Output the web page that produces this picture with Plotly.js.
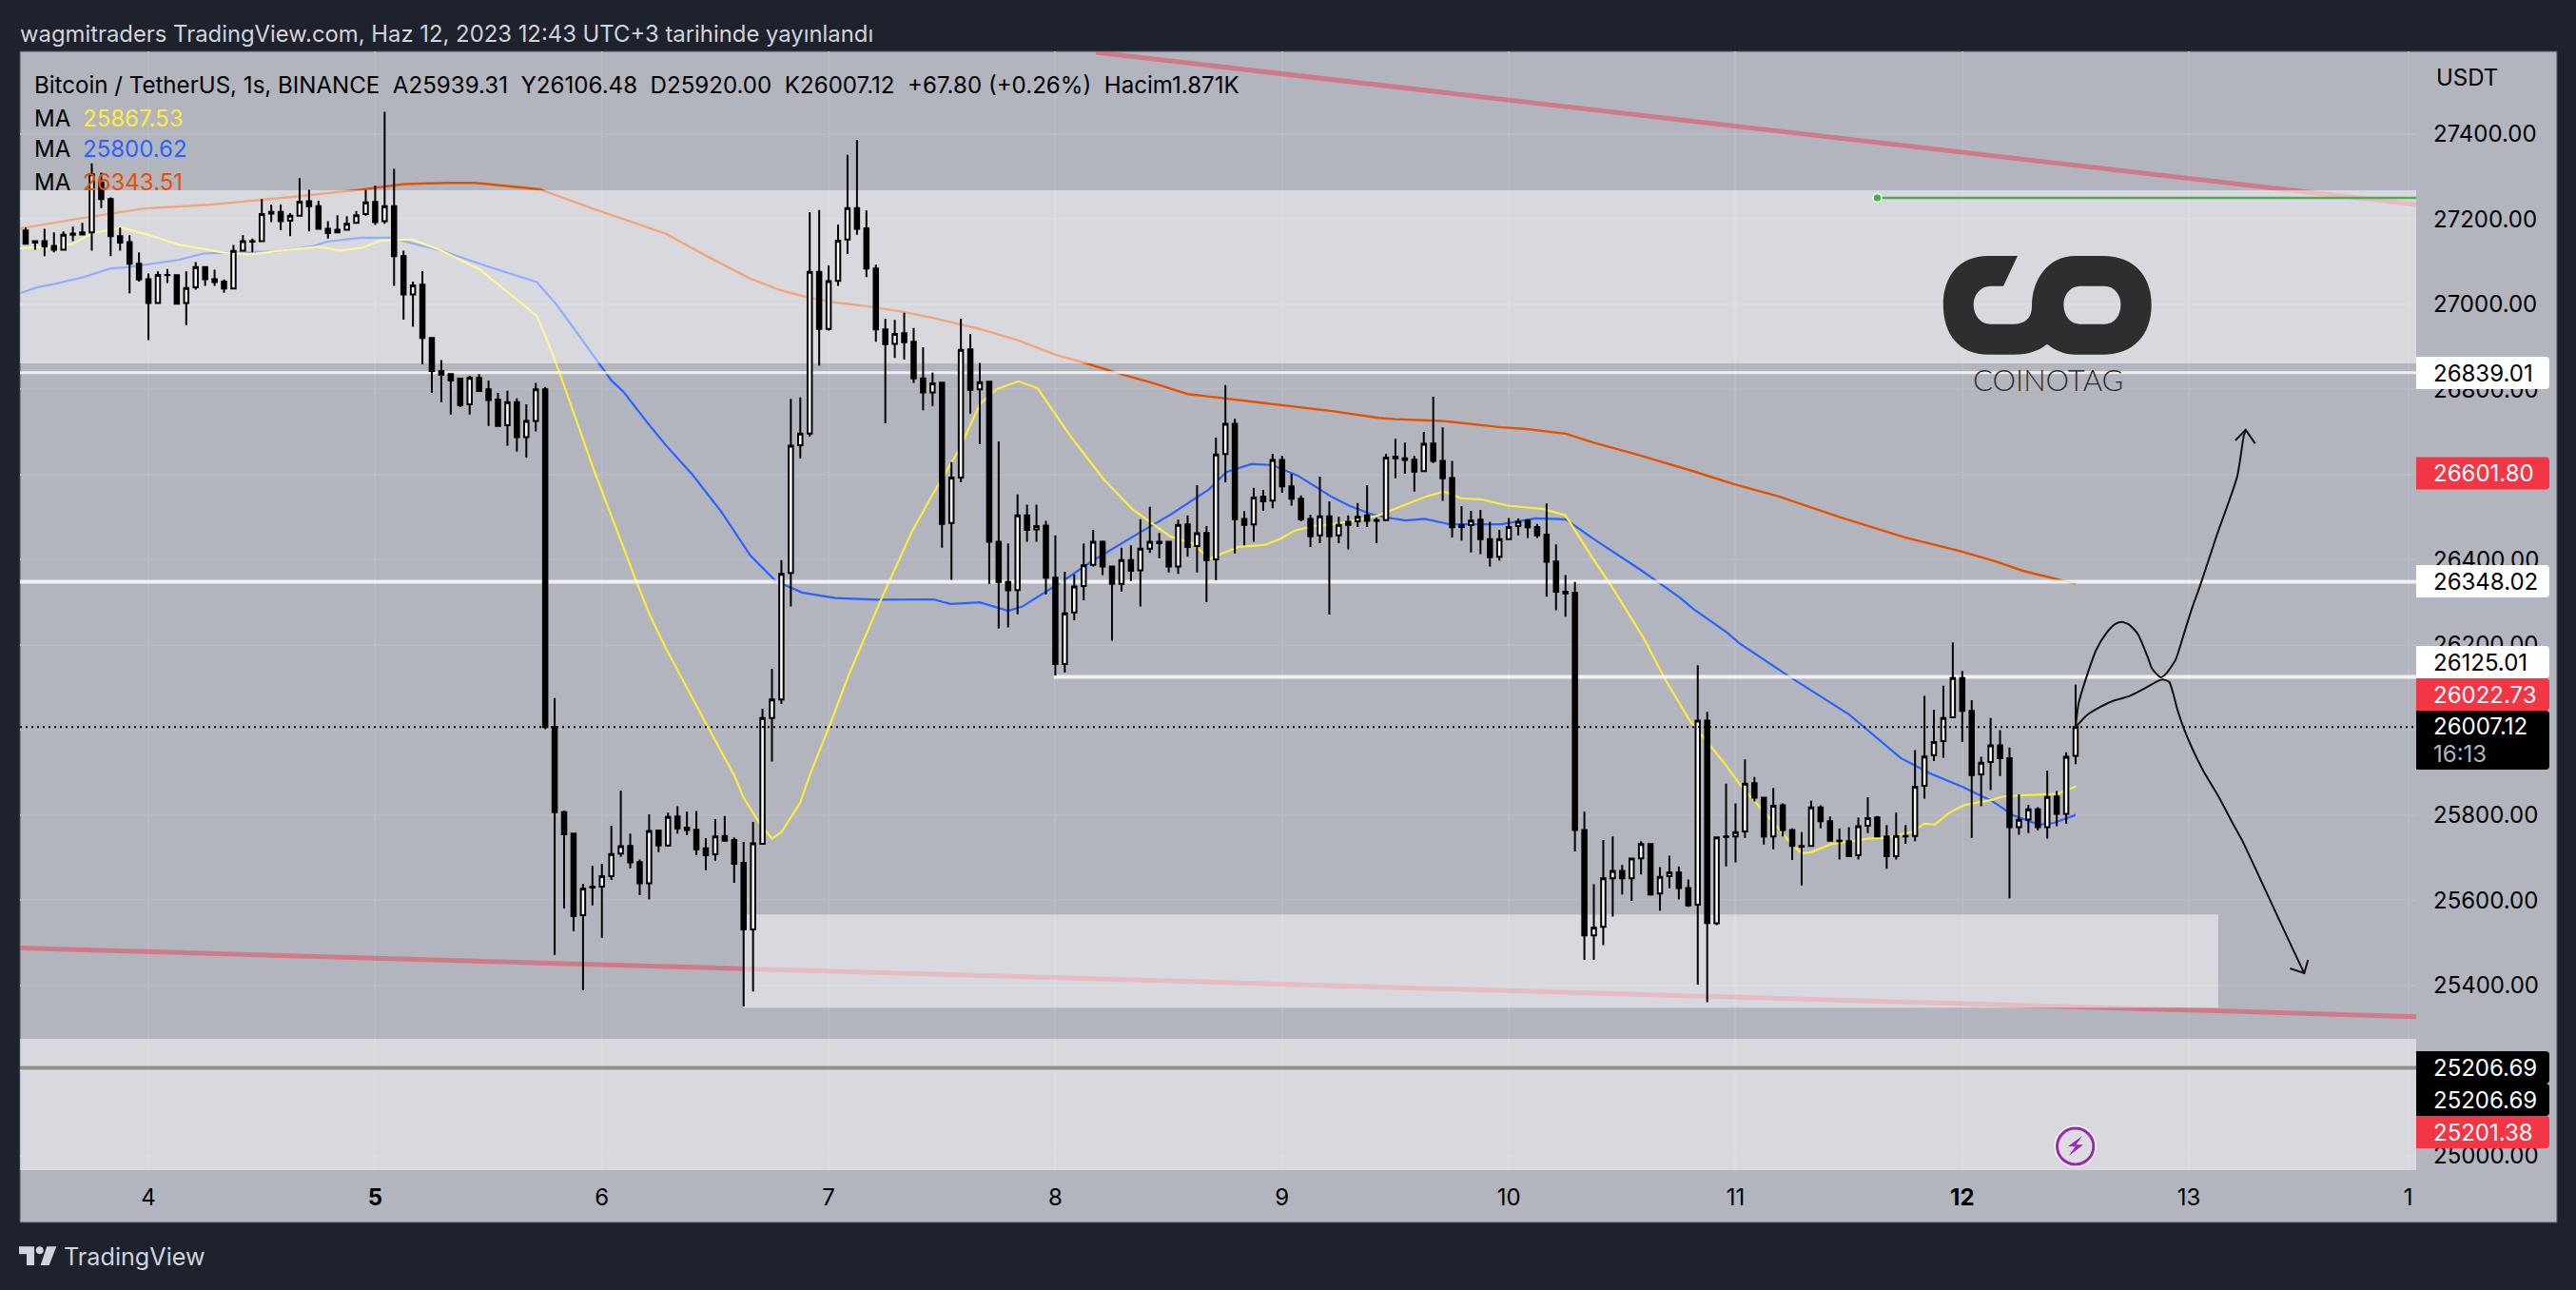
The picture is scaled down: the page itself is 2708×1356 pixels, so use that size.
<!DOCTYPE html>
<html><head><meta charset="utf-8">
<script src="https://cdn.plot.ly/plotly-3.0.1.min.js"></script>
<style>html,body{margin:0;padding:0;background:#1e222d}#chart{width:2708px;height:1356px}</style>
</head><body><div id="chart"></div>
<script>
// ---------- candle values (hourly BTC/USDT) ----------
const opens=[27173,27148,27148,27137,27128,27166,27169,27169,27286,27247,27160,27146,27095,27059,27003,27069,27068,27003,27040,27087,27059,27053,27037,27126,27147,27148,27217,27217,27196,27208,27242,27230,27177,27175,27175,27191,27212,27240,27195,27230,27113,27023,27046,26921,26843,26836,26825,26765,26827,26800,26776,26716,26770,26688,26726,26800,26007,25807,25757,25565,25632,25632,25657,25710,25728,25690,25640,25764,25729,25797,25771,25766,25722,25708,25751,25742,25688,25532,25733,26028,26072,26369,26669,26696,27076,26942,27055,27152,27226,27178,27084,26941,26907,26932,26912,26826,26793,26816,26486,26593,26894,26800,26818,26442,26348,26329,26504,26471,26480,26358,26155,26276,26338,26388,26442,26384,26343,26399,26375,26426,26442,26442,26384,26483,26432,26463,26401,26648,26719,26496,26483,26548,26539,26634,26572,26543,26496,26457,26502,26457,26489,26490,26504,26493,26493,26642,26638,26635,26608,26673,26632,26592,26481,26481,26494,26448,26407,26448,26479,26492,26477,26459,26396,26325,26322,25765,25518,25538,25652,25669,25652,25699,25732,25616,25657,25666,25629,25590,26022,25546,25749,25750,25762,25875,25841,25750,25823,25765,25726,25728,25818,25786,25740,25739,25706,25775,25795,25750,25704,25750,25751,25869,25941,25974,26030,26122,26045,25896,25925,25964,25934,25772,25790,25814,25772,25844,25803,25939.31];
const highs=[27180,27148,27177,27169,27171,27182,27191,27331,27309,27251,27180,27162,27122,27072,27077,27083,27069,27077,27099,27089,27081,27058,27139,27162,27154,27247,27234,27234,27214,27296,27269,27243,27195,27209,27207,27219,27268,27279,27452,27318,27126,27053,27078,26923,26869,26837,26825,26832,26836,26821,26792,26797,26779,26765,26815,26806,26075,25811,25757,25639,25681,25686,25775,25858,25757,25696,25802,25764,25806,25821,25809,25810,25746,25791,25798,25748,25737,25784,26050,26144,26399,26778,26781,27216,27221,27091,27187,27351,27386,27220,27093,26966,26963,26980,26944,26899,26839,26816,26629,26966,26930,26862,26818,26678,26438,26553,26529,26529,26491,26457,26372,26365,26438,26470,26445,26385,26428,26434,26495,26524,26463,26442,26494,26504,26575,26479,26687,26810,26731,26514,26569,26564,26649,26644,26602,26551,26506,26595,26537,26501,26504,26533,26575,26499,26649,26684,26675,26644,26700,26783,26711,26632,26526,26515,26517,26489,26470,26498,26497,26495,26484,26532,26436,26364,26348,25808,25638,25742,25750,25683,25700,25739,25732,25678,25705,25680,25649,26152,26043,25750,25874,25828,25931,25890,25842,25864,25828,25769,25760,25834,25823,25797,25769,25772,25795,25842,25798,25777,25806,25777,25953,26080,26048,26104,26206,26139,26070,25937,26028,26000,25959,25849,25824,25819,25905,25857,25948,26106.48];
const lows=[27141,27128,27113,27122,27128,27148,27164,27126,27226,27113,27126,27026,27053,26916,27003,27050,26999,26951,27034,27043,27043,27027,27037,27125,27122,27148,27193,27174,27160,27206,27171,27177,27154,27169,27175,27189,27208,27186,27189,27043,26964,26947,26859,26792,26770,26741,26758,26741,26794,26714,26712,26668,26654,26640,26701,26002,25472,25581,25528,25389,25588,25512,25648,25702,25675,25612,25602,25713,25726,25757,25753,25706,25670,25693,25740,25641,25351,25386,25733,25926,26061,26290,26638,26689,26856,26938,27043,27118,27163,27064,26912,26720,26874,26870,26815,26751,26761,26428,26353,26582,26743,26671,26343,26238,26241,26272,26442,26442,26318,26128,26135,26258,26305,26384,26364,26210,26325,26350,26290,26416,26403,26370,26367,26407,26370,26300,26352,26582,26415,26434,26442,26515,26521,26557,26527,26490,26430,26439,26271,26439,26424,26477,26477,26439,26492,26591,26602,26560,26607,26627,26538,26452,26445,26417,26413,26384,26398,26448,26457,26451,26451,26313,26281,26266,25715,25460,25460,25495,25562,25614,25599,25661,25611,25576,25628,25602,25585,25402,25361,25542,25680,25689,25747,25832,25731,25720,25750,25695,25635,25728,25769,25739,25696,25702,25696,25758,25748,25674,25696,25733,25739,25839,25927,25935,26030,25972,25747,25821,25859,25892,25605,25754,25758,25764,25745,25774,25780,25920];
const closes=[27142,27145,27136,27128,27163,27163,27164,27305,27247,27160,27145,27095,27058,27003,27069,27068,27001,27038,27087,27059,27052,27037,27125,27148,27148,27212,27213,27195,27208,27241,27230,27177,27167,27169,27189,27209,27239,27193,27230,27113,27023,27044,26921,26843,26834,26821,26763,26827,26796,26775,26714,26770,26688,26726,26800,26007,25807,25755,25563,25628,25630,25657,25709,25727,25689,25640,25763,25729,25796,25769,25765,25720,25706,25750,25740,25686,25532,25734,26028,26072,26367,26668,26696,27076,26942,27054,27149,27226,27177,27084,26941,26906,26930,26911,26826,26793,26814,26484,26593,26893,26799,26817,26442,26348,26328,26504,26470,26479,26358,26155,26274,26337,26387,26442,26384,26343,26399,26374,26426,26442,26439,26384,26482,26430,26462,26399,26647,26719,26495,26482,26546,26537,26634,26572,26543,26495,26455,26502,26455,26482,26482,26501,26491,26491,26640,26638,26634,26607,26672,26632,26591,26476,26477,26492,26448,26406,26448,26477,26489,26476,26457,26395,26325,26321,25765,25518,25536,25652,25669,25652,25698,25732,25614,25655,25666,25629,25588,26022,25547,25748,25750,25760,25874,25841,25750,25822,25765,25728,25728,25818,25786,25740,25739,25704,25774,25793,25750,25704,25751,25751,25867,25938,25972,26028,26122,26045,25894,25923,25964,25934,25772,25789,25814,25772,25843,25803,25937,26007.12];
const firstHour=-13;   // hours relative to 4 Jun 00:00
const hours=opens.map((_,i)=>firstHour+i);

// ---------- moving averages ----------
const ma1Hours=[-13.6,-11.2,-8.1,-5.9,-2.9,0,3.2,8.1,10.8,15.7,18,20.2,22.5,24.7,27.9,30.6,35.1,41.1,42.7,43.8,47.2,51.7,53.1,54.8,59,62,63,64.8,66,67,69,70,72.2,74.1,77.7,80.8,83.1,85.8,88,89.8,92.1,94.1,97.5,101.1,104.2,108.2,110.5,112.3,113.6,115.4,118.2,119.9,121.3,123.5,125.3,127.9,130.2,133.1,135.1,137.1,139,141,143.9,147.7,150,153.1,154.9,158.3,160.6,163.1,166.9,168.5,171.6,173.9,175,176,178.1,182,183.9,186.6,188,189.1,190.5,192.2,195.1,196.3,198.6,202,204];
const ma1Values=[27131,27135,27141,27167,27180,27163,27140,27121,27117,27130,27135,27126,27132,27150,27152,27130,27081,26973,26888,26821,26608,26346,26269,26191,26016,25894,25841,25778,25745,25760,25830,25894,26016,26128,26314,26465,26557,26658,26765,26801,26819,26803,26693,26589,26518,26454,26439,26402,26414,26430,26435,26450,26468,26480,26483,26493,26504,26530,26547,26560,26544,26542,26527,26519,26504,26396,26337,26215,26117,26024,25920,25871,25793,25733,25711,25713,25732,25745,25747,25760,25780,25778,25804,25824,25836,25844,25847,25850,25867.53];
const ma2Hours=[-13.6,-11.7,-9.9,-6.8,-4,-2.2,3.2,5.8,8.1,13.5,17.5,18.9,22.5,25.6,31,35.9,41.1,43.2,45.4,49,50.3,53.1,54.8,57.5,60.6,63.7,66.4,69.2,72.7,77.2,83.1,84.9,88,91,92.5,96.8,99.7,104.2,108.2,112.3,114.1,116.8,119,121.7,125.3,127.1,129.3,131.1,133.1,135.1,137.8,143.2,146.8,150,153.1,158.1,162.1,163.5,167.1,168.4,173.8,180,185.5,188.6,192,195.1,197.4,200.1,201.7,204];
const ma2Values=[27026,27040,27048,27064,27084,27087,27104,27119,27121,27124,27137,27147,27156,27156,27126,27089,27052,26999,26932,26821,26794,26714,26668,26602,26514,26410,26350,26323,26310,26306,26307,26296,26300,26280,26290,26350,26394,26454,26506,26566,26606,26625,26622,26597,26547,26527,26508,26499,26492,26496,26483,26483,26497,26495,26447,26374,26311,26285,26229,26204,26124,26037,25934,25898,25867,25834,25800,25778,25782,25800.62];
const ma3Hours=[-13.6,-6.8,-0.4,6.7,15.7,22.5,27,31.5,34.6,41.4,47.2,51.7,54.8,59.2,63.7,66.9,69.8,72.7,75.9,79.9,83,88,92.1,96.1,99.3,102.9,106.5,110,113.2,117.7,125.3,130.2,132,136.9,143.2,145.9,150,153.1,157.6,163.5,167.9,172.5,179.2,186,191.8,195.7,198.4,204];
const ma3Values=[27178,27203,27225,27234,27253,27269,27282,27285,27285,27270,27223,27189,27165,27112,27060,27033,27016,27004,26996,26982,26968,26942,26915,26881,26861,26836,26814,26789,26781,26769,26749,26733,26730,26726,26711,26707,26696,26674,26647,26608,26577,26549,26499,26452,26420,26395,26374,26343.51];

// ---------- hand drawings ----------
const pathUpHours=[204,204.3,205.2,206.2,207.3,208.2,208.9,209.7,210.6,211.6,212.1,213,213.6,214.6,215.3,216.3,217.1,217.7,219,221.1,221.8,222];
const pathUpPrices=[26007,26061,26128,26189,26229,26249,26254,26247,26225,26173,26144,26124,26133,26166,26214,26285,26334,26374,26461,26595,26691,26705];
const headUpHours=[220.9,222,223];
const headUpPrices=[26680,26705,26673];
const pathDownHours=[204,205.2,206.6,207.9,209.7,211.4,212.5,213.2,213.9,214.3,214.8,215.5,216.4,217.5,219.1,220.7,221.6,222.9,224.3,225.7,227,228.2];
const pathDownPrices=[26007,26035,26054,26068,26080,26099,26113,26119,26113,26088,26046,26001,25954,25905,25845,25778,25742,25681,25614,25547,25485,25429];
const headDownHours=[226.7,228.2,228.6];
const headDownPrices=[25440,25429,25460];

// ---------- levels, zones, trend lines ----------
const trendTopHours=[100.3,240.05], trendTopPrices=[27591.5,27234];
const trendBottomHours=[-13.6,240.05], trendBottomPrices=[25488,25327];
const levelHigh=26839.01, levelMid=26348.02, levelLow=26125.01, levelGray=25206.69, lastPrice=26007.12, levelGreen=27250;
const zoneTop=[26861,27267.5], zoneMid=[25348,25567], zoneBottom=[24966,25275];
const zoneMidHours=[63,219.1];
const levelLowStart=95.8, levelGreenStart=183;
const xMin=-13.6, xMax=240.05, yMin=24966.5, yMax=27593.8;

// ---------- axis labels ----------
const dayTicks=[0,24,48,72,96,120,144,168,192,216,239.2];
const dayLabels=['4','<b>5</b>','6','7','8','9','10','11','<b>12</b>','13','1'];
const priceTicks=[25000,25200,25400,25600,25800,26000,26200,26400,26600,26800,27000,27200,27400];
// 25200, 26000 and 26600 sit fully behind the price boxes in the reference
const priceLabels=['25000.00','','25400.00','25600.00','25800.00','','26200.00','26400.00','','26800.00','27000.00','27200.00','27400.00'];

// ---------- texts ----------
const headerText='wagmitraders TradingView.com, Haz 12, 2023 12:43 UTC+3 tarihinde yayınlandı';
const legendText='Bitcoin / TetherUS, 1s, BINANCE\u00a0\u00a0A25939.31\u00a0\u00a0Y26106.48\u00a0\u00a0D25920.00\u00a0\u00a0K26007.12\u00a0\u00a0+67.80 (+0.26%)\u00a0\u00a0Hacim1.871K';
const maLegend=['25867.53','25800.62','26343.51'];
const priceBoxes=[
 ['26839.01','#ffffff','#000000',392],['26601.80','#f23645','#ffffff',497.5],['26348.02','#ffffff','#000000',611],
 ['26125.01','#ffffff','#000000',696],['26022.73','#f23645','#ffffff',730],
 ['25206.69','#000000','#ffffff',1122],['25206.69','#000000','#ffffff',1156],['25201.38','#f23645','#ffffff',1190]];

const FONT='Inter, "Noto Sans", sans-serif';
const GREY='#b2b5be', DARK='#1e222d';
const PL=21,PR=2540,PT=54,PB=1230;
const X=x=>(x-PL)/(PR-PL), Y=y=>(PB-y)/(PB-PT);
function pathPx(str){ // "x,y" pairs in page pixels -> paper path
  return str.replace(/(-?[\d.]+),(-?[\d.]+)/g,(m,a,b)=>X(+a).toFixed(6)+','+Y(+b).toFixed(6));
}
function sh(path,fill,extra){return Object.assign({type:'path',xref:'paper',yref:'paper',path:pathPx(path),fillcolor:fill,line:{width:0},layer:'above'},extra||{});}
function txt(x,y,t,color,size,extra){return Object.assign({xref:'paper',yref:'paper',x:X(x),y:Y(y),text:t,showarrow:false,xanchor:'left',yanchor:'middle',borderpad:0,borderwidth:0,font:{family:FONT,size:size||24,color:color}},extra||{});}
function box(y0,y1,fill){const a=PR,b=2680,r=4;return sh(`M${a},${y0} L${b-r},${y0} Q${b},${y0} ${b},${y0+r} L${b},${y1-r} Q${b},${y1} ${b-r},${y1} L${a},${y1} Z`,fill);}

const line=(x,y,color,width,extra)=>Object.assign({type:'scatter',mode:'lines',x,y,line:{color,width,simplify:false},hoverinfo:'skip',showlegend:false},extra||{});
const zone=(x,y)=>({type:'scatter',mode:'none',x:[x[0],x[1],x[1],x[0],x[0]],y:[y[0],y[0],y[1],y[1],y[0]],fill:'toself',fillcolor:'rgba(255,255,255,0.49)',hoverinfo:'skip',showlegend:false});
const full=[xMin,xMax];
const O={xaxis:'x2',yaxis:'y2'};

const traces=[
 line(trendTopHours,trendTopPrices,'rgba(242,54,69,0.45)',5),
 line(trendBottomHours,trendBottomPrices,'rgba(242,54,69,0.45)',5),
 line(ma3Hours,ma3Values,'#e65100',2.4),
 line(ma2Hours,ma2Values,'#2962ff',2.2),
 line(ma1Hours,ma1Values,'#ffeb3b',2.2),
 zone(full,zoneTop),zone(zoneMidHours,zoneMid),zone(full,zoneBottom),
 line(full,[levelHigh,levelHigh],'rgba(255,255,255,0.8)',3),
 line(full,[levelMid,levelMid],'rgba(255,255,255,0.8)',4),
 line([levelLowStart,xMax],[levelLow,levelLow],'rgba(255,255,255,0.8)',4),
 line(full,[levelGray,levelGray],'#8f8f8f',4),
 line([levelGreenStart,xMax],[levelGreen,levelGreen],'#4caf50',2.5),
 {type:'scatter',mode:'markers',x:[levelGreenStart],y:[levelGreen],marker:{size:9,color:'#4caf50',line:{color:'#ffffff',width:1.5}},hoverinfo:'skip',showlegend:false},
 Object.assign({type:'candlestick',x:hours,open:opens,high:highs,low:lows,close:closes,whiskerwidth:0,
   increasing:{line:{color:'#000000',width:2},fillcolor:'#ffffff'},
   decreasing:{line:{color:'#000000',width:2},fillcolor:'#000000'},hoverinfo:'skip',showlegend:false},O),
 line(full,[lastPrice,lastPrice],'#000000',2,Object.assign({},O)),
 line(pathUpHours,pathUpPrices,'#111111',2,O),
 line(headUpHours,headUpPrices,'#111111',2,O),
 line(pathDownHours,pathDownPrices,'#111111',2,O),
 line(headDownHours,headDownPrices,'#111111',2,O)
];
traces[15].line.dash='2px,4px';
[16,18].forEach(i=>{traces[i].line.shape='spline';traces[i].line.smoothing=0.6;});

const shapes=[
 {type:'rect',xref:'paper',yref:'paper',x0:X(21),x1:X(2688),y0:Y(1285),y1:Y(54),fillcolor:GREY,line:{color:'#50535e',width:1},layer:'below'},
 // logo
 sh('M2121,269 L2106,300.7 L2092.6,300.7 C2082,300.7 2074.7,310 2074.7,320 C2074.7,332 2082,340.7 2092.6,340.7 L2116.7,340.7 C2128,340.7 2136,335 2136,322 C2136,295 2152,269 2182,269 L2211,269 C2243,269 2261.7,290 2261.7,320 C2261.7,352 2243,372.7 2211,372.7 L2182,372.7 C2170,372.7 2160,368 2152,361.7 C2144,368 2134,372.7 2116.7,372.7 L2090,372.7 C2060,372.7 2042.8,352 2042.8,320 C2042.8,290 2060,269 2090,269 Z M2187,300.7 L2212,300.7 C2223,300.7 2229.4,310 2229.4,320 C2229.4,332 2223,340.7 2212,340.7 L2187,340.7 C2176,340.7 2169.4,332 2169.4,320 C2169.4,310 2176,300.7 2187,300.7 Z','#2e2e2e'),
 // TradingView logo
 sh('M20,1310.3 L36,1310.3 L36,1330 L28,1330 L28,1318.3 L20,1318.3 Z','#d1d4dc'),
 sh('M49.3,1310.3 L59.3,1310.3 L51.7,1330 L42.7,1330 Z','#d1d4dc'),
 sh('M37.7,1314.3 C37.7,1309 45.7,1309 45.7,1314.3 C45.7,1319.6 37.7,1319.6 37.7,1314.3 Z','#d1d4dc'),
 // lightning badge
 {type:'circle',xref:'paper',yref:'paper',x0:X(2159.5),x1:X(2203.9),y0:Y(1227),y1:Y(1183),fillcolor:'#ffffff',line:{width:0},layer:'above'},
 {type:'circle',xref:'paper',yref:'paper',x0:X(2162.5),x1:X(2200.9),y0:Y(1224),y1:Y(1186),fillcolor:'#dcdce2',line:{color:'#9c27b0',width:3},layer:'above'},
 sh('M2189,1194 L2174,1205 L2181.7,1205 L2175,1215 L2190,1203.3 L2182.3,1203.3 Z','#9c27b0')
];
priceBoxes.forEach(b=>shapes.push(box(b[3]-17,b[3]+17,b[1])));
shapes.push(box(747,809,'#000000'));

const annotations=[
 txt(21,36,headerText,'#d1d4dc',23.85),
 txt(36,89,legendText,'#000000',24.1),
 txt(36,124,'MA','#000000',24), txt(87,124,maLegend[0],'#ffeb3b',24),
 txt(36,157,'MA','#000000',24), txt(87,157,maLegend[1],'#2962ff',24),
 txt(36,191,'MA','#000000',24), txt(87,191,maLegend[2],'#e65100',24),
 txt(2561,81,'USDT','#000000',24),
 txt(2074,399,'COINOTAG','#2e2e2e',31,{font:{family:'Lato, '+FONT,size:31,color:'#2e2e2e',weight:300}}),
 txt(67,1321,'TradingView','#d1d4dc',25.2),
 txt(2557.5,763.5,lastPrice.toFixed(2),'#ffffff',24),
 txt(2557.5,792,'16:13','#b2b5be',24)
];
priceBoxes.forEach(b=>annotations.push(txt(2557.5,b[3],b[0],b[2],24)));

const layout={
 width:2708,height:1356,paper_bgcolor:DARK,plot_bgcolor:GREY,
 margin:{l:PL,r:2708-PR,t:PT,b:1356-PB,pad:0},showlegend:false,
 boxgap:0.35,boxmode:'overlay',hovermode:false,dragmode:false,
 font:{family:FONT,size:24,color:'#000000'},
 xaxis:{type:'linear',range:[xMin,xMax],tickmode:'array',tickvals:dayTicks,ticktext:dayLabels,showgrid:true,gridcolor:'#b8bbc3',gridwidth:2,zeroline:false,showline:false,ticks:'',ticklabelstandoff:12,tickfont:{family:FONT,size:24,color:'#000000'},rangeslider:{visible:false},fixedrange:true,automargin:false},
 yaxis:{type:'linear',range:[yMin,yMax],side:'right',tickmode:'array',tickvals:priceTicks,ticktext:priceLabels,showgrid:true,gridcolor:'#b8bbc3',gridwidth:2,zeroline:false,showline:false,ticks:'',ticklabelstandoff:17,tickfont:{family:FONT,size:24,color:'#000000'},fixedrange:true,automargin:false},
 xaxis2:{type:'linear',overlaying:'x',range:[xMin,xMax],visible:false,rangeslider:{visible:false},fixedrange:true},
 yaxis2:{type:'linear',overlaying:'y',side:'right',range:[yMin,yMax],visible:false,fixedrange:true},
 shapes,annotations
};
Plotly.newPlot('chart',traces,layout,{displayModeBar:false,staticPlot:true});
</script></body></html>
